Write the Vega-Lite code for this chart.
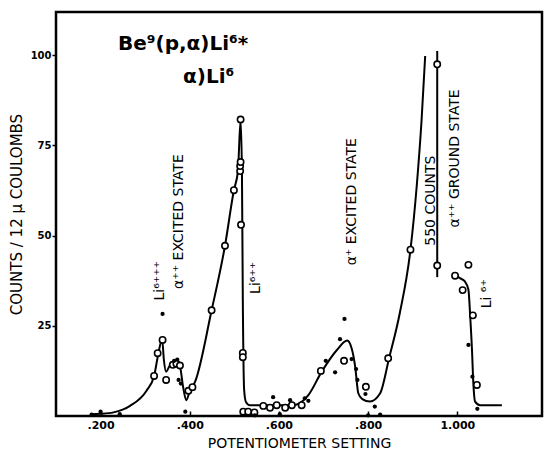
{
  "$schema": "https://vega.github.io/schema/vega-lite/v6.json",
  "width": 486,
  "height": 404,
  "autosize": {"type": "none"},
  "padding": {"left": 56, "top": 12, "right": 4, "bottom": 35},
  "background": "white",
  "config": {
    "view": {"stroke": "black", "strokeWidth": 2.5},
    "font": "DejaVu Sans",
    "axis": {"domain": false, "grid": false, "labelColor": "black", "titleColor": "black", "tickColor": "black"}
  },
  "datasets": {
    "curve": [
      {"seg": "a", "x": 0.176, "y": 0.5},
      {"seg": "a", "x": 0.2, "y": 0.6},
      {"seg": "a", "x": 0.229, "y": 1.0},
      {"seg": "a", "x": 0.266, "y": 2.8},
      {"seg": "a", "x": 0.303, "y": 7.0},
      {"seg": "a", "x": 0.32, "y": 11.1},
      {"seg": "a", "x": 0.329, "y": 16.9},
      {"seg": "a", "x": 0.338, "y": 21.3},
      {"seg": "a", "x": 0.342, "y": 15.5},
      {"seg": "a", "x": 0.347, "y": 12.3},
      {"seg": "a", "x": 0.356, "y": 14.2},
      {"seg": "a", "x": 0.367, "y": 15.1},
      {"seg": "a", "x": 0.378, "y": 13.7},
      {"seg": "a", "x": 0.385, "y": 8.1},
      {"seg": "a", "x": 0.392, "y": 4.4},
      {"seg": "a", "x": 0.4, "y": 6.8},
      {"seg": "a", "x": 0.412, "y": 9.5},
      {"seg": "a", "x": 0.449, "y": 29.3},
      {"seg": "a", "x": 0.479, "y": 47.2},
      {"seg": "a", "x": 0.499, "y": 62.6},
      {"seg": "a", "x": 0.508, "y": 67.8},
      {"seg": "a", "x": 0.514, "y": 82.0},
      {"seg": "a", "x": 0.517, "y": 68.0},
      {"seg": "a", "x": 0.519, "y": 32.0},
      {"seg": "a", "x": 0.522, "y": 7.2},
      {"seg": "a", "x": 0.526, "y": 3.9},
      {"seg": "a", "x": 0.535, "y": 3.0},
      {"seg": "a", "x": 0.632, "y": 3.0},
      {"seg": "a", "x": 0.666, "y": 5.8},
      {"seg": "a", "x": 0.696, "y": 12.3},
      {"seg": "a", "x": 0.73, "y": 18.3},
      {"seg": "a", "x": 0.753, "y": 20.9},
      {"seg": "a", "x": 0.763, "y": 18.8},
      {"seg": "a", "x": 0.771, "y": 13.7},
      {"seg": "a", "x": 0.778, "y": 6.3},
      {"seg": "a", "x": 0.787, "y": 4.7},
      {"seg": "a", "x": 0.804, "y": 4.0},
      {"seg": "a", "x": 0.827, "y": 6.3},
      {"seg": "a", "x": 0.847, "y": 16.0},
      {"seg": "a", "x": 0.871, "y": 28.5},
      {"seg": "a", "x": 0.895, "y": 46.1},
      {"seg": "a", "x": 0.909, "y": 63.7},
      {"seg": "a", "x": 0.92, "y": 82.2},
      {"seg": "a", "x": 0.928, "y": 99.8},
      {"seg": "b", "x": 0.993, "y": 39.2},
      {"seg": "b", "x": 1.006, "y": 38.2},
      {"seg": "b", "x": 1.017, "y": 37.3},
      {"seg": "b", "x": 1.025, "y": 35.0},
      {"seg": "b", "x": 1.029, "y": 27.6},
      {"seg": "b", "x": 1.033, "y": 18.3},
      {"seg": "b", "x": 1.036, "y": 9.1},
      {"seg": "b", "x": 1.04, "y": 4.0},
      {"seg": "b", "x": 1.051, "y": 3.0},
      {"seg": "b", "x": 1.1, "y": 3.0}
    ],
    "open": [
      {"x": 0.32, "y": 11.1}, {"x": 0.328, "y": 17.4}, {"x": 0.339, "y": 21.1},
      {"x": 0.347, "y": 10.0}, {"x": 0.362, "y": 14.2}, {"x": 0.37, "y": 14.5},
      {"x": 0.378, "y": 14.0}, {"x": 0.397, "y": 7.0}, {"x": 0.406, "y": 8.0},
      {"x": 0.449, "y": 29.3}, {"x": 0.479, "y": 47.2}, {"x": 0.499, "y": 62.6},
      {"x": 0.513, "y": 67.9}, {"x": 0.513, "y": 69.3}, {"x": 0.514, "y": 70.4},
      {"x": 0.514, "y": 82.2}, {"x": 0.515, "y": 53.0}, {"x": 0.519, "y": 17.5},
      {"x": 0.519, "y": 16.3}, {"x": 0.52, "y": 1.2}, {"x": 0.531, "y": 1.2},
      {"x": 0.545, "y": 1.0}, {"x": 0.565, "y": 2.8}, {"x": 0.58, "y": 2.3},
      {"x": 0.595, "y": 3.0}, {"x": 0.614, "y": 2.3}, {"x": 0.629, "y": 3.0},
      {"x": 0.651, "y": 3.0}, {"x": 0.694, "y": 12.5}, {"x": 0.746, "y": 15.3},
      {"x": 0.795, "y": 8.1}, {"x": 0.845, "y": 16.0}, {"x": 0.895, "y": 46.1},
      {"x": 0.955, "y": 97.5}, {"x": 0.955, "y": 41.7}, {"x": 0.995, "y": 38.9},
      {"x": 1.012, "y": 34.9}, {"x": 1.025, "y": 41.9}, {"x": 1.035, "y": 27.9},
      {"x": 1.044, "y": 8.6}
    ],
    "filled": [
      {"x": 0.18, "y": 0.4}, {"x": 0.2, "y": 1.2}, {"x": 0.243, "y": 0.5},
      {"x": 0.339, "y": 28.3}, {"x": 0.365, "y": 15.3}, {"x": 0.372, "y": 15.6},
      {"x": 0.375, "y": 10.0}, {"x": 0.38, "y": 9.0}, {"x": 0.39, "y": 1.2},
      {"x": 0.546, "y": 0.2}, {"x": 0.587, "y": 5.2}, {"x": 0.602, "y": 0.5},
      {"x": 0.625, "y": 4.4}, {"x": 0.658, "y": 4.9}, {"x": 0.666, "y": 4.2},
      {"x": 0.705, "y": 15.3}, {"x": 0.726, "y": 12.1}, {"x": 0.737, "y": 21.3},
      {"x": 0.747, "y": 26.9}, {"x": 0.763, "y": 15.8}, {"x": 0.773, "y": 13.0},
      {"x": 0.776, "y": 10.0}, {"x": 0.794, "y": 6.1}, {"x": 0.8, "y": 0.2},
      {"x": 0.815, "y": 2.6}, {"x": 0.827, "y": 0.4}, {"x": 1.025, "y": 19.7},
      {"x": 1.034, "y": 10.9}, {"x": 1.045, "y": 2.0}
    ],
    "vline": [{"x": 0.955, "y": 38.5, "y2": 101.2}],
    "titles": [
      {"x": 0.239, "y": 103, "label": "Be⁹(p,α)Li⁶*"},
      {"x": 0.385, "y": 94, "label": "α)Li⁶"}
    ],
    "notes": [
      {"x": 0.333, "y": 37.5, "label": "Li⁶⁺⁺⁺"},
      {"x": 0.376, "y": 53.9, "label": "α⁺⁺ EXCITED STATE"},
      {"x": 0.549, "y": 38.3, "label": "Li⁶⁺⁺"},
      {"x": 0.764, "y": 59.4, "label": "α⁺ EXCITED STATE"},
      {"x": 0.942, "y": 59.7, "label": "550 COUNTS"},
      {"x": 0.995, "y": 71.4, "label": "α⁺⁺ GROUND STATE"},
      {"x": 1.067, "y": 33.9, "label": "Li ⁶⁺"}
    ]
  },
  "encoding": {
    "x": {
      "field": "x", "type": "quantitative",
      "scale": {"domain": [0.1, 1.19], "nice": false, "zero": false},
      "axis": {
        "title": "POTENTIOMETER SETTING",
        "values": [0.2, 0.4, 0.6, 0.8, 1.0],
        "labelExpr": "datum.value == 1 ? '1.000' : replace(format(datum.value, '.3f'), '0.', '.')",
        "labelFontSize": 11, "labelFontWeight": "bold", "labelPadding": 8,
        "tickSize": -5, "tickWidth": 1.5,
        "titleFontSize": 14, "titleFontWeight": "normal", "titlePadding": 6
      }
    },
    "y": {
      "field": "y", "type": "quantitative",
      "scale": {"domain": [0, 112], "nice": false},
      "axis": {
        "title": "COUNTS / 12 μ COULOMBS",
        "values": [25, 50, 75, 100],
        "labelFontSize": 10, "labelFontWeight": "bold", "labelPadding": 1,
        "tickSize": 4, "tickWidth": 1.5,
        "titleFontSize": 15, "titleFontWeight": "normal", "titlePadding": 6
      }
    }
  },
  "layer": [
    {
      "data": {"name": "curve"},
      "mark": {"type": "line", "color": "black", "strokeWidth": 2, "interpolate": "monotone"},
      "encoding": {"detail": {"field": "seg"}}
    },
    {
      "data": {"name": "vline"},
      "mark": {"type": "rule", "color": "black", "strokeWidth": 2},
      "encoding": {"y2": {"field": "y2"}}
    },
    {
      "data": {"name": "open"},
      "mark": {"type": "point", "shape": "circle", "filled": false, "fill": "white", "fillOpacity": 1, "stroke": "black", "strokeWidth": 1.6, "size": 40, "opacity": 1}
    },
    {
      "data": {"name": "filled"},
      "mark": {"type": "point", "shape": "circle", "filled": true, "color": "black", "size": 18, "opacity": 1}
    },
    {
      "data": {"name": "titles"},
      "mark": {"type": "text", "align": "left", "baseline": "middle", "fontSize": 20, "fontWeight": "bold", "color": "black"},
      "encoding": {"text": {"field": "label"}}
    },
    {
      "data": {"name": "notes"},
      "mark": {"type": "text", "angle": 270, "align": "center", "baseline": "middle", "fontSize": 14, "color": "black"},
      "encoding": {"text": {"field": "label"}}
    }
  ]
}
